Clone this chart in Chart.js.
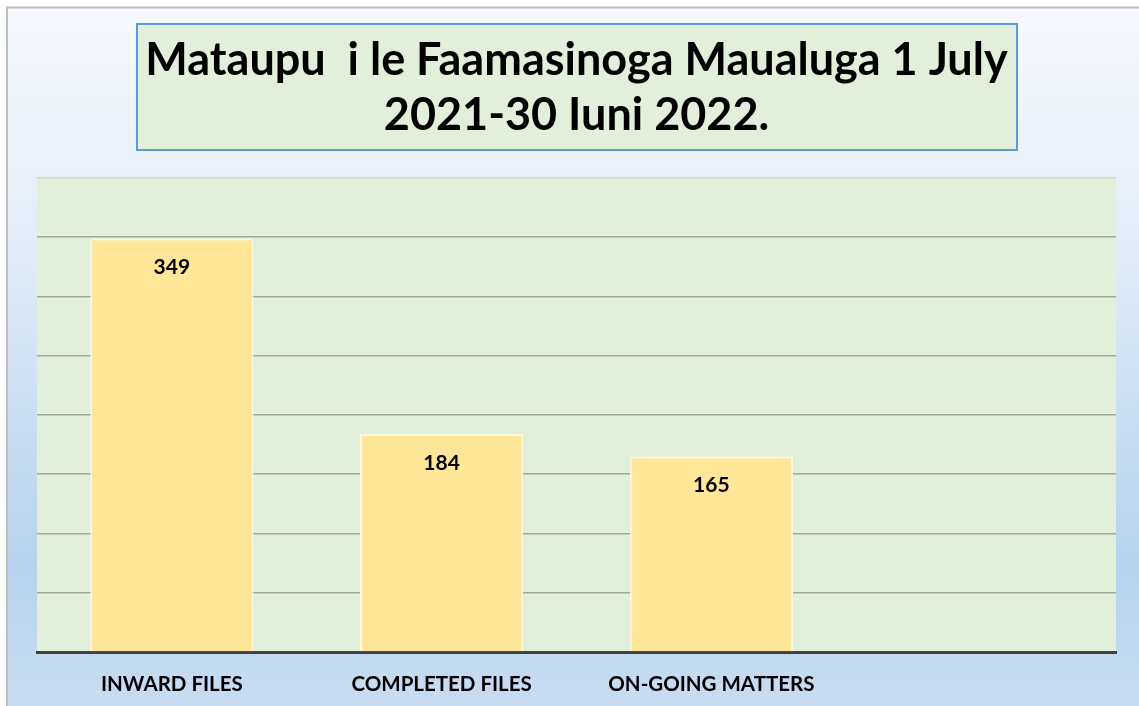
<!DOCTYPE html>
<html>
<head>
<meta charset="utf-8">
<script src="https://cdn.jsdelivr.net/npm/chart.js@4.4.0/dist/chart.umd.min.js"></script>
<style>
html,body{margin:0;padding:0;background:#fff;}
#wrap{width:1139px;height:706px;position:relative;}
</style>
</head>
<body>
<div id="wrap"><canvas id="c" width="1139" height="706"></canvas></div>
<script>
const categories = ["INWARD FILES", "COMPLETED FILES", "ON-GOING MATTERS", ""];
const values = [349, 184, 165, null];
const titleLines = ["Mataupu  i le Faamasinoga Maualuga 1 July", "2021-30 Iuni 2022."];
const yMin = 0, yMax = 400, yStep = 50;

const FONT = "Lato, 'Open Sans', 'Liberation Sans', sans-serif";

const backgroundPlugin = {
  id: 'bgPlugin',
  beforeDraw(chart) {
    const ctx = chart.ctx;
    const W = chart.width, H = chart.height;
    ctx.save();
    ctx.fillStyle = '#ffffff';
    ctx.fillRect(0, 0, W, H);
    const g = ctx.createLinearGradient(0, 8, 0, H);
    g.addColorStop(0, '#F6F9FD');
    g.addColorStop(0.3, '#E5EEF8');
    g.addColorStop(0.8, '#B6D2EC');
    g.addColorStop(1, '#C9DDF1');
    ctx.fillStyle = g;
    ctx.fillRect(8, 8, W - 8, H - 8);
    ctx.strokeStyle = '#BFBFBF';
    ctx.lineWidth = 2;
    ctx.beginPath();
    ctx.moveTo(7, H);
    ctx.lineTo(7, 7.5);
    ctx.lineTo(W, 7.5);
    ctx.stroke();
    // title box
    ctx.fillStyle = '#E2EFDA';
    ctx.fillRect(137, 24, 880, 126);
    ctx.strokeStyle = '#5B9BD5';
    ctx.lineWidth = 2;
    ctx.strokeRect(137, 24, 880, 126);
    // plot area
    const a = chart.chartArea;
    ctx.fillStyle = '#E2EFDA';
    ctx.fillRect(a.left, a.top, a.right - a.left, a.bottom - a.top);
    ctx.restore();
  }
};

const labelPlugin = {
  id: 'valLabels',
  afterDatasetsDraw(chart) {
    const ctx = chart.ctx;
    const meta = chart.getDatasetMeta(0);
    ctx.save();
    ctx.font = "bold 21px " + FONT;
    ctx.fillStyle = '#000';
    ctx.textAlign = 'center';
    ctx.textBaseline = 'middle';
    meta.data.forEach((bar, i) => {
      const v = values[i];
      if (v === null || v === undefined) return;
      ctx.fillText(String(v), bar.x, bar.y + 29);
    });
    ctx.restore();
  }
};

new Chart(document.getElementById('c'), {
  type: 'bar',
  data: {
    labels: categories,
    datasets: [{
      data: values,
      backgroundColor: '#FFE699',
      borderColor: '#FFF7DD',
      borderWidth: 2,
      barPercentage: 0.605,
      categoryPercentage: 1.0
    }]
  },
  options: {
    responsive: false,
    animation: false,
    devicePixelRatio: 1,
    layout: { padding: { left: 37, right: 23, top: 0, bottom: 0 } },
    plugins: {
      legend: { display: false },
      tooltip: { enabled: false },
      title: {
        display: true,
        text: titleLines,
        color: '#000',
        font: { family: FONT, size: 45, weight: 'bold', lineHeight: 1.244 },
        padding: { top: 32, bottom: 34 }
      }
    },
    scales: {
      x: {
        grid: { display: false, drawTicks: false },
        border: { display: true, color: '#404040', width: 3 },
        ticks: {
          color: '#000',
          font: { family: FONT, size: 20.5, weight: 'bold' },
          padding: 20,
          maxRotation: 0,
          autoSkip: false
        },
        afterFit(scale) { scale.height = 54; }
      },
      y: {
        min: yMin, max: yMax,
        grid: {
          color: (c) => (c.tick && c.tick.value === yMax) ? '#CDD8C6' : '#A0A89C',
          lineWidth: 1.5,
          drawTicks: false
        },
        border: { display: false },
        ticks: { display: false, stepSize: yStep }
      }
    }
  },
  plugins: [backgroundPlugin, labelPlugin]
});
</script>
</body>
</html>
